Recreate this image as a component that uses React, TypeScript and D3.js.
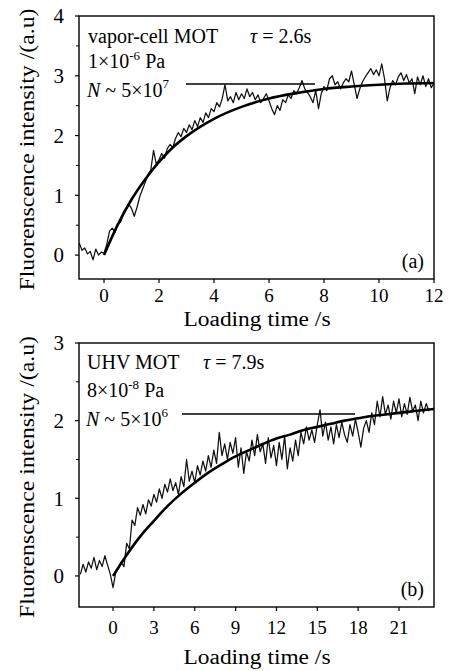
import React from 'react';
import * as d3 from 'd3';

// panel (a): vapor-cell MOT, sampled every 0.1 s from -0.9 s
const startA = -0.9;
const stepA = 0.1;
const signalA = [
  0.20, 0.08, 0.12, 0.02, 0.06, -0.08, 0.10, 0.00, 0.05,
  0.03, 0.18, 0.40, 0.45, 0.38, 0.52, 0.55, 0.68, 0.75, 0.85,
  0.78, 0.65, 0.80, 0.98, 1.10, 1.22, 1.35, 1.42, 1.75, 1.52,
  1.60, 1.70, 1.62, 1.78, 1.85, 1.80, 1.95, 2.05, 1.98, 2.12,
  2.05, 2.18, 2.10, 2.25, 2.15, 2.30, 2.22, 2.38, 2.30, 2.45,
  2.40, 2.55, 2.48, 2.62, 2.85, 2.58, 2.65, 2.55, 2.72, 2.60,
  2.70, 2.62, 2.78, 2.65, 2.72, 2.60, 2.68, 2.55, 2.62, 2.70,
  2.58, 2.45, 2.35, 2.50, 2.42, 2.60, 2.55, 2.68, 2.62, 2.75,
  2.70, 2.80, 2.92, 2.78, 2.72, 2.65, 2.55, 2.75, 2.45, 2.70,
  2.82, 2.75, 2.95, 3.00, 2.85, 2.90, 2.78, 2.88, 2.95, 2.90,
  3.08, 2.85, 2.62, 2.78, 2.90, 2.98, 3.05, 3.12, 3.02, 3.10,
  3.00, 3.20, 2.95, 2.58, 2.80, 2.92, 2.85, 2.98, 3.05, 2.92,
  3.02, 2.88, 2.95, 2.70, 2.98, 2.85, 3.00, 2.82, 2.95, 2.80,
  2.88,
];
const fitTimeA = [0, 0.5, 1, 1.5, 2, 2.5, 3, 4, 5, 6, 7, 8, 9, 10, 11, 12];
const fitValueA = [0, 0.51, 0.93, 1.27, 1.56, 1.80, 1.99, 2.28, 2.48, 2.62, 2.71, 2.78, 2.82, 2.85, 2.87, 2.88];
const xTicksA = [0, 2, 4, 6, 8, 10, 12];
const yTicksA = [0, 1, 2, 3, 4];
const yMinorA = [0.5, 1.5, 2.5, 3.5];

// panel (b): UHV MOT, sampled every 0.2 s from -2.4 s
const startB = -2.4;
const stepB = 0.2;
const signalB = [
  0.02, 0.15, 0.05, 0.18, 0.10, 0.24, 0.08, 0.20, 0.12, 0.26,
  0.14, 0.02, -0.15, 0.05, 0.10, 0.18, 0.12, 0.42, 0.35, 0.72,
  0.65, 0.88, 0.78, 0.92, 0.80, 0.98, 0.90, 1.05, 0.95, 1.12,
  1.00, 1.18, 1.08, 1.25, 1.10, 1.20, 1.05, 1.28, 1.15, 1.50,
  1.22, 1.35, 1.20, 1.42, 1.30, 1.48, 1.35, 1.55, 1.40, 1.62,
  1.45, 1.85, 1.55, 1.70, 1.50, 1.72, 1.58, 1.78, 1.40, 1.65,
  1.32, 1.60, 1.48, 1.75, 1.55, 1.82, 1.60, 1.70, 1.45, 1.78,
  1.52, 1.68, 1.42, 1.72, 1.50, 1.80, 1.38, 1.65, 1.48, 1.75,
  1.55, 1.85, 1.70, 1.92, 1.75, 1.88, 1.72, 1.95, 2.14, 1.80,
  1.98, 1.75, 1.92, 1.70, 1.95, 1.78, 1.98, 1.82, 1.72, 1.95,
  1.80, 2.02, 1.85, 1.66, 1.90, 2.00, 1.85, 2.10, 1.95, 2.25,
  2.05, 2.31, 2.08, 2.20, 2.02, 2.25, 2.10, 2.28, 2.05, 2.22,
  2.08, 2.30, 2.12, 2.20, 2.00, 2.25, 2.10, 2.22, 2.12,
];
const fitTimeB = [0, 1, 2, 3, 4, 5, 6, 7, 8, 9, 10, 11, 12, 13, 14, 15, 16, 17, 18, 19, 20, 21, 22, 23, 23.57];
const fitValueB = [0, 0.27, 0.51, 0.71, 0.90, 1.06, 1.20, 1.33, 1.44, 1.54, 1.62, 1.70, 1.77, 1.82, 1.88, 1.92, 1.96, 2.00, 2.03, 2.06, 2.08, 2.10, 2.12, 2.14, 2.15];
const xTicksB = [0, 3, 6, 9, 12, 15, 18, 21];
const yTicksB = [0, 1, 2, 3];
const yMinorB = [0.5, 1.5, 2.5];

const FONT = 'Liberation Serif';

type PanelProps = {
  top: number;
  bottom: number;
  xDomain: [number, number];
  yDomain: [number, number];
  start: number;
  step: number;
  signal: number[];
  fitTime: number[];
  fitValue: number[];
  xTicks: number[];
  yTicks: number[];
  yMinor: number[];
  tickLabelY: number;
  axisLabelY: number;
  tag: string;
  lines: React.ReactNode;
};

const left = 79;
const right = 434;

const Panel = (p: PanelProps) => {
  const x = d3.scaleLinear().domain(p.xDomain).range([left, right]);
  const y = d3.scaleLinear().domain(p.yDomain).range([p.bottom, p.top]);

  const raw = d3
    .line<number>()
    .x((_, i) => x(p.start + i * p.step))
    .y((d) => y(d));

  const fit = d3
    .line<number>()
    .x((_, i) => x(p.fitTime[i]))
    .y((d) => y(d))
    .curve(d3.curveMonotoneX);

  return (
    <g>
      <path d={raw(p.signal) || ''} fill="none" stroke="#111" strokeWidth={1.25} strokeLinejoin="round" />
      <path d={fit(p.fitValue) || ''} fill="none" stroke="#000" strokeWidth={2.6} />
      <rect x={left} y={p.top} width={right - left} height={p.bottom - p.top} fill="none" stroke="#000" strokeWidth={1.4} />
      {p.xTicks.map((t) => (
        <g key={'x' + t}>
          <line x1={x(t)} x2={x(t)} y1={p.bottom} y2={p.bottom + 4} stroke="#000" strokeWidth={1.2} />
          <text x={x(t)} y={p.tickLabelY} textAnchor="middle" fontSize={19}>
            {t}
          </text>
        </g>
      ))}
      {p.yTicks.map((t) => (
        <g key={'y' + t}>
          <line x1={left - 4} x2={left} y1={y(t)} y2={y(t)} stroke="#000" strokeWidth={1.2} />
          <text x={64} y={y(t)} dy="0.35em" textAnchor="end" fontSize={21}>
            {t}
          </text>
        </g>
      ))}
      {p.yMinor.map((t) => (
        <line key={'m' + t} x1={left - 3} x2={left} y1={y(t)} y2={y(t)} stroke="#000" strokeWidth={1} />
      ))}
      <text x={257} y={p.axisLabelY} textAnchor="middle" fontSize={20} textLength={147} lengthAdjust="spacingAndGlyphs">
        Loading time /s
      </text>
      <text
        transform={`translate(26,${(p.top + p.bottom) / 2 + 2}) rotate(-90)`}
        textAnchor="middle"
        dy="0.35em"
        fontSize={22}
        textLength={282}
        lengthAdjust="spacingAndGlyphs"
      >
        Fluorenscence intensity /(a.u)
      </text>
      <text x={424} y={p.bottom - 11} textAnchor="end" fontSize={20}>
        {p.tag}
      </text>
      {p.lines}
    </g>
  );
};

const App = () => {
  return (
    <div>
      <style>{`body{margin:0;background:#fff}`}</style>
      <svg width={449} height={671} style={{ display: 'block' }}>
        <rect width={449} height={671} fill="#fff" />
        <g fontFamily={FONT}>
          <Panel
            top={16}
            bottom={279}
            xDomain={[-0.91, 12]}
            yDomain={[-0.4, 4]}
            start={startA}
            step={stepA}
            signal={signalA}
            fitTime={fitTimeA}
            fitValue={fitValueA}
            xTicks={xTicksA}
            yTicks={yTicksA}
            yMinor={yMinorA}
            tickLabelY={302}
            axisLabelY={326}
            tag="(a)"
            lines={
              <g fontSize={20}>
                <text x={88} y={43}>
                  vapor-cell MOT
                  <tspan x={250} fontStyle="italic">τ</tspan>
                  <tspan> = 2.6s</tspan>
                </text>
                <text x={88} y={68}>
                  1×10<tspan dy={-8} fontSize={13}>-6</tspan>
                  <tspan dy={8}> Pa</tspan>
                </text>
                <text x={87} y={97}>
                  <tspan fontStyle="italic">N</tspan> ~ 5×10
                  <tspan dy={-9} fontSize={13}>7</tspan>
                </text>
                <line x1={186} x2={315} y1={84} y2={84} stroke="#000" strokeWidth={1.3} />
              </g>
            }
          />
          <Panel
            top={343}
            bottom={607}
            xDomain={[-2.5, 23.57]}
            yDomain={[-0.4, 3]}
            start={startB}
            step={stepB}
            signal={signalB}
            fitTime={fitTimeB}
            fitValue={fitValueB}
            xTicks={xTicksB}
            yTicks={yTicksB}
            yMinor={yMinorB}
            tickLabelY={634}
            axisLabelY={664}
            tag="(b)"
            lines={
              <g fontSize={20}>
                <text x={87} y={369}>
                  UHV MOT
                  <tspan x={203} fontStyle="italic">τ</tspan>
                  <tspan> = 7.9s</tspan>
                </text>
                <text x={87} y={397}>
                  8×10<tspan dy={-8} fontSize={13}>-8</tspan>
                  <tspan dy={8}> Pa</tspan>
                </text>
                <text x={86} y={426}>
                  <tspan fontStyle="italic">N</tspan> ~ 5×10
                  <tspan dy={-9} fontSize={13}>6</tspan>
                </text>
                <line x1={182} x2={355} y1={414} y2={414} stroke="#000" strokeWidth={1.3} />
              </g>
            }
          />
        </g>
      </svg>
    </div>
  );
};

export default App;
